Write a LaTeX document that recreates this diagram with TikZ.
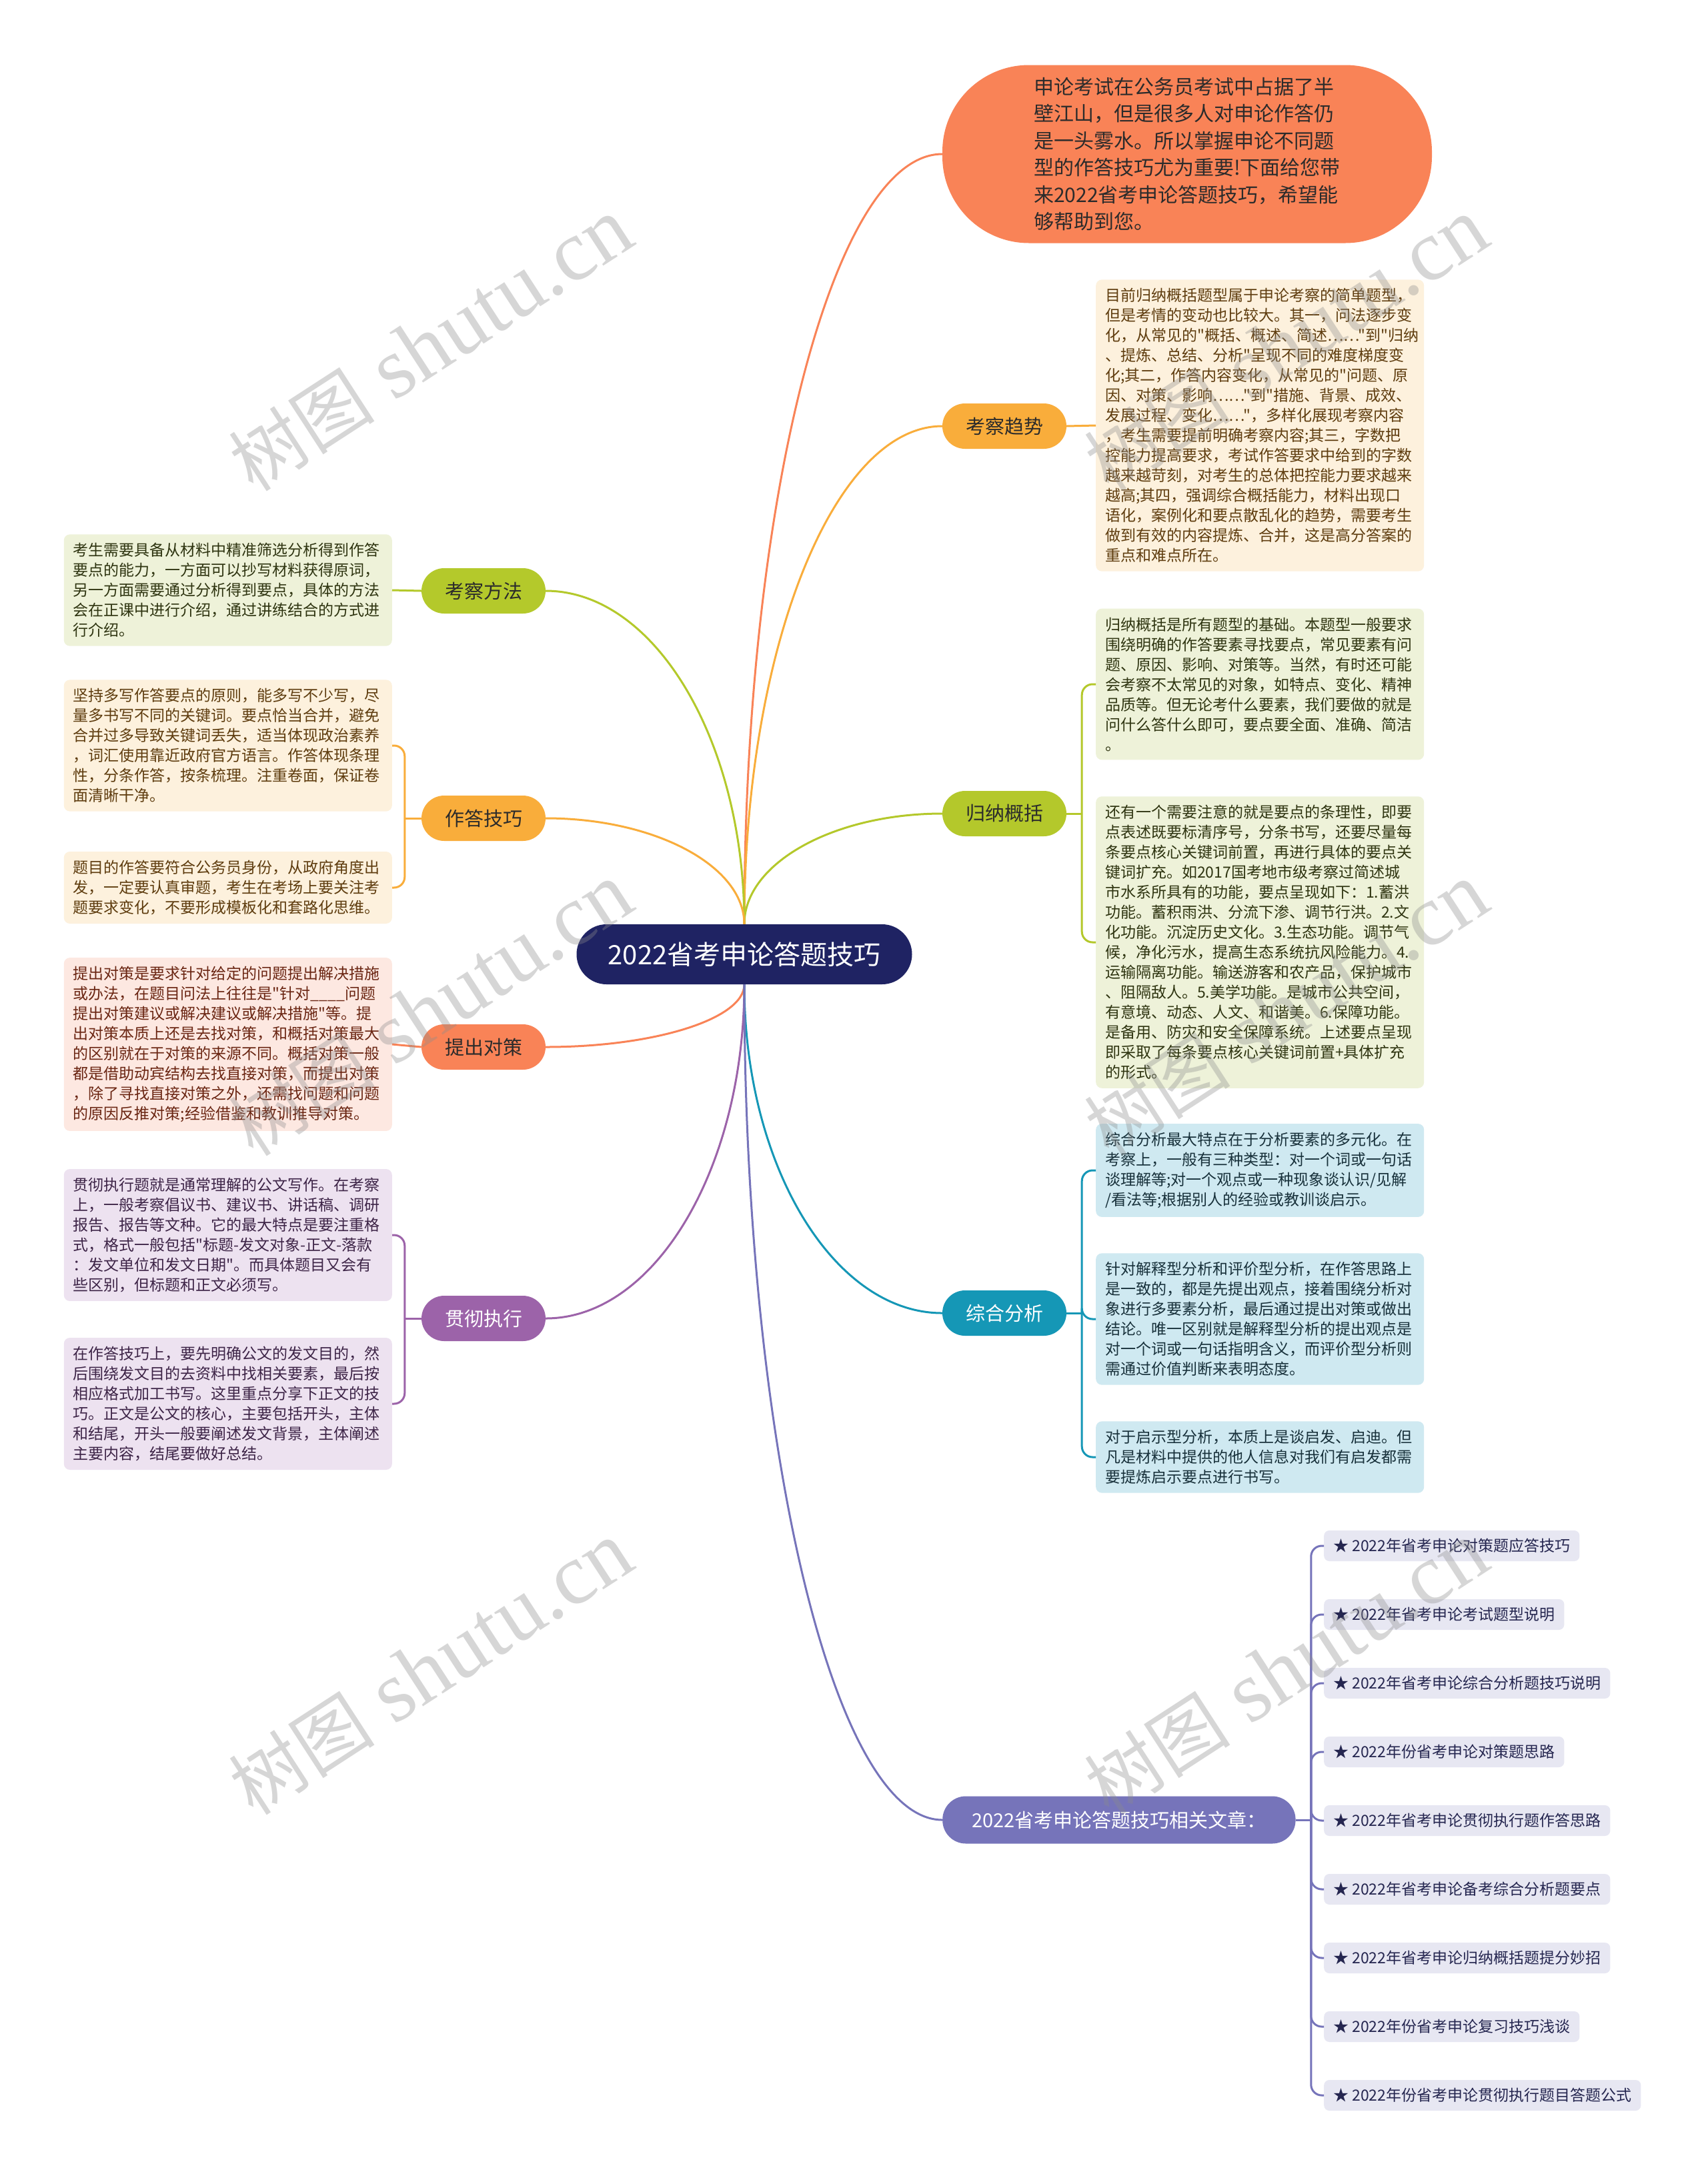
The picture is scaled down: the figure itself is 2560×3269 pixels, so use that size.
\documentclass[tikz,border=0pt]{standalone}
\usepackage{fontspec}
\setmainfont{Noto Sans CJK SC}[Ligatures=TeXOff]
\newfontfamily\wmserif{Liberation Serif}
\usetikzlibrary{calc}
\definecolor{cIntro}{HTML}{F98357}
\definecolor{cQS}{HTML}{F9AD3B}
\definecolor{cGN}{HTML}{B4C82B}
\definecolor{cZH}{HTML}{1597B6}
\definecolor{cRel}{HTML}{7674BA}
\definecolor{cFF}{HTML}{B4C92B}
\definecolor{cZD}{HTML}{F9AD3B}
\definecolor{cTC}{HTML}{F98357}
\definecolor{cGC}{HTML}{9C63A9}
\definecolor{cCenter}{HTML}{1F2363}
\definecolor{bxOr}{HTML}{FDF1DD}
\definecolor{txOr}{HTML}{5E3C0E}
\definecolor{bxGr}{HTML}{EEF2D9}
\definecolor{txGr}{HTML}{2E3410}
\definecolor{bxBl}{HTML}{CFE9F1}
\definecolor{txBl}{HTML}{17303A}
\definecolor{bxPk}{HTML}{FDE8E1}
\definecolor{txPk}{HTML}{6A2512}
\definecolor{bxPu}{HTML}{EDE2F0}
\definecolor{txPu}{HTML}{3D2447}
\definecolor{bxLi}{HTML}{E7E7F2}
\definecolor{txLi}{HTML}{252650}
\definecolor{txDark}{HTML}{2B2B2B}
\newcommand\mmlink[3]{\draw[link,#1] (#2) .. controls ($(#2)!0.55!(#2|-#3)$) and ($(#3)!0.55!(#2|-#3)$) .. (#3);}
\newcommand\mmbrack[3]{\draw[link,#1,rounded corners=16pt] (#2) |- (#3);}
\begin{document}
\begin{tikzpicture}[x=1pt,y=-1pt,
  link/.style={line width=3pt},
  centernode/.style={fill=cCenter,text=white,rounded corners=45pt,minimum width=503pt,minimum height=90pt,font=\fontsize{40}{48}\selectfont,inner sep=0pt},
  pill/.style={fill=cIntro,text=txDark,rounded corners=130pt,minimum width=734pt,minimum height=267pt,align=left,font=\fontsize{30}{40.5}\selectfont,inner sep=0pt},
  branch/.style={text=txDark,rounded corners=34pt,minimum width=186pt,minimum height=68pt,font=\fontsize{29}{34}\selectfont,inner sep=0pt},
  relnode/.style={fill=cRel,text=white,rounded corners=35pt,minimum height=71pt,inner xsep=44pt,inner ysep=0pt,font=\fontsize{29}{34}\selectfont},
  box/.style={rounded corners=9pt,align=left,text width=464pt,inner xsep=14pt,inner ysep=13pt,font=\fontsize{23}{30}\selectfont},
  rbox/.style={box,anchor=west},
  lbox/.style={box,anchor=east},
  item/.style={fill=bxLi,text=txLi,rounded corners=8pt,anchor=west,minimum height=46pt,inner xsep=14pt,inner ysep=0pt,font=\fontsize{23}{28}\selectfont},
  wm/.style={rotate=33,text=black!45,opacity=0.35,inner sep=0pt}
]
\fill[white] (0,0) rectangle (2560,3269);
\useasboundingbox (0,0) rectangle (2560,3269);

% central node
\node[centernode] (cn) at (1116,1431) {2022省考申论答题技巧};

% intro pill
\node[pill] (intro) at (1780,231) {申论考试在公务员考试中占据了半\\壁江山，但是很多人对申论作答仍\\是一头雾水。所以掌握申论不同题\\型的作答技巧尤为重要!下面给您带\\来2022省考申论答题技巧，希望能\\够帮助到您。};

% right branches
\node[branch,fill=cQS] (qs) at (1506,639) {考察趋势};
\node[branch,fill=cGN] (gn) at (1506,1220) {归纳概括};
\node[branch,fill=cZH,text=white] (zh) at (1506,1969) {综合分析};
\node[relnode,anchor=west] (rel) at (1413,2729) {2022省考申论答题技巧相关文章：};

% left branches
\node[branch,fill=cFF] (ff) at (725,886) {考察方法};
\node[branch,fill=cZD] (zd) at (725,1227) {作答技巧};
\node[branch,fill=cTC] (tc) at (725,1570) {提出对策};
\node[branch,fill=cGC,text=white] (gc) at (725,1977) {贯彻执行};

% right boxes
\node[rbox,fill=bxOr,text=txOr] (qs1) at (1643,638) {目前归纳概括题型属于申论考察的简单题型，\\但是考情的变动也比较大。其一，问法逐步变\\化，从常见的"概括、概述、简述……"到"归纳\\、提炼、总结、分析"呈现不同的难度梯度变\\化;其二，作答内容变化，从常见的"问题、原\\因、对策、影响……"到"措施、背景、成效、\\发展过程、变化……"，多样化展现考察内容\\，考生需要提前明确考察内容;其三，字数把\\控能力提高要求，考试作答要求中给到的字数\\越来越苛刻，对考生的总体把控能力要求越来\\越高;其四，强调综合概括能力，材料出现口\\语化，案例化和要点散乱化的趋势，需要考生\\做到有效的内容提炼、合并，这是高分答案的\\重点和难点所在。};

\node[rbox,fill=bxGr,text=txGr] (gn1) at (1643,1026) {归纳概括是所有题型的基础。本题型一般要求\\围绕明确的作答要素寻找要点，常见要素有问\\题、原因、影响、对策等。当然，有时还可能\\会考察不太常见的对象，如特点、变化、精神\\品质等。但无论考什么要素，我们要做的就是\\问什么答什么即可，要点要全面、准确、简洁\\。};

\node[rbox,fill=bxGr,text=txGr] (gn2) at (1643,1413) {还有一个需要注意的就是要点的条理性，即要\\点表述既要标清序号，分条书写，还要尽量每\\条要点核心关键词前置，再进行具体的要点关\\键词扩充。如2017国考地市级考察过简述城\\市水系所具有的功能，要点呈现如下：1.蓄洪\\功能。蓄积雨洪、分流下渗、调节行洪。2.文\\化功能。沉淀历史文化。3.生态功能。调节气\\候，净化污水，提高生态系统抗风险能力。4.\\运输隔离功能。输送游客和农产品，保护城市\\、阻隔敌人。5.美学功能。是城市公共空间，\\有意境、动态、人文、和谐美。6.保障功能。\\是备用、防灾和安全保障系统。上述要点呈现\\即采取了每条要点核心关键词前置+具体扩充\\的形式。};

\node[rbox,fill=bxBl,text=txBl] (zh1) at (1643,1755) {综合分析最大特点在于分析要素的多元化。在\\考察上，一般有三种类型：对一个词或一句话\\谈理解等;对一个观点或一种现象谈认识/见解\\/看法等;根据别人的经验或教训谈启示。};

\node[rbox,fill=bxBl,text=txBl] (zh2) at (1643,1978) {针对解释型分析和评价型分析，在作答思路上\\是一致的，都是先提出观点，接着围绕分析对\\象进行多要素分析，最后通过提出对策或做出\\结论。唯一区别就是解释型分析的提出观点是\\对一个词或一句话指明含义，而评价型分析则\\需通过价值判断来表明态度。};

\node[rbox,fill=bxBl,text=txBl] (zh3) at (1643,2185) {对于启示型分析，本质上是谈启发、启迪。但\\凡是材料中提供的他人信息对我们有启发都需\\要提炼启示要点进行书写。};

% left boxes
\node[lbox,fill=bxGr,text=txGr] (ff1) at (588,885) {考生需要具备从材料中精准筛选分析得到作答\\要点的能力，一方面可以抄写材料获得原词，\\另一方面需要通过分析得到要点，具体的方法\\会在正课中进行介绍，通过讲练结合的方式进\\行介绍。};

\node[lbox,fill=bxOr,text=txOr] (zd1) at (588,1118) {坚持多写作答要点的原则，能多写不少写，尽\\量多书写不同的关键词。要点恰当合并，避免\\合并过多导致关键词丢失，适当体现政治素养\\，词汇使用靠近政府官方语言。作答体现条理\\性，分条作答，按条梳理。注重卷面，保证卷\\面清晰干净。};

\node[lbox,fill=bxOr,text=txOr] (zd2) at (588,1331) {题目的作答要符合公务员身份，从政府角度出\\发，一定要认真审题，考生在考场上要关注考\\题要求变化，不要形成模板化和套路化思维。};

\node[lbox,fill=bxPk,text=txPk] (tc1) at (588,1566) {提出对策是要求针对给定的问题提出解决措施\\或办法，在题目问法上往往是"针对\_\_\_\_问题\\提出对策建议或解决建议或解决措施"等。提\\出对策本质上还是去找对策，和概括对策最大\\的区别就在于对策的来源不同。概括对策一般\\都是借助动宾结构去找直接对策，而提出对策\\，除了寻找直接对策之外，还需找问题和问题\\的原因反推对策;经验借鉴和教训推导对策。};

\node[lbox,fill=bxPu,text=txPu] (gc1) at (588,1852) {贯彻执行题就是通常理解的公文写作。在考察\\上，一般考察倡议书、建议书、讲话稿、调研\\报告、报告等文种。它的最大特点是要注重格\\式，格式一般包括"标题-发文对象-正文-落款\\：发文单位和发文日期"。而具体题目又会有\\些区别，但标题和正文必须写。};

\node[lbox,fill=bxPu,text=txPu] (gc2) at (588,2105) {在作答技巧上，要先明确公文的发文目的，然\\后围绕发文目的去资料中找相关要素，最后按\\相应格式加工书写。这里重点分享下正文的技\\巧。正文是公文的核心，主要包括开头，主体\\和结尾，开头一般要阐述发文背景，主体阐述\\主要内容，结尾要做好总结。};

% related articles
\node[item] (r1) at (1985,2318) {★ 2022年省考申论对策题应答技巧};
\node[item] (r2) at (1985,2421) {★ 2022年省考申论考试题型说明};
\node[item] (r3) at (1985,2524) {★ 2022年省考申论综合分析题技巧说明};
\node[item] (r4) at (1985,2627) {★ 2022年份省考申论对策题思路};
\node[item] (r5) at (1985,2730) {★ 2022年省考申论贯彻执行题作答思路};
\node[item] (r6) at (1985,2833) {★ 2022年省考申论备考综合分析题要点};
\node[item] (r7) at (1985,2936) {★ 2022年省考申论归纳概括题提分妙招};
\node[item] (r8) at (1985,3039) {★ 2022年份省考申论复习技巧浅谈};
\node[item] (r9) at (1985,3142) {★ 2022年份省考申论贯彻执行题目答题公式};

% main connectors
\mmlink{cIntro}{cn.north}{intro.west}
\mmlink{cQS}{cn.north}{qs.west}
\mmlink{cGN}{cn.north}{gn.west}
\mmlink{cFF}{cn.north}{ff.east}
\mmlink{cZD}{cn.north}{zd.east}
\mmlink{cTC}{cn.south}{tc.east}
\mmlink{cGC}{cn.south}{gc.east}
\mmlink{cZH}{cn.south}{zh.west}
\mmlink{cRel}{cn.south}{rel.west}

% branch to boxes
\draw[link,cQS] (qs.east) -- (qs1.west);
\draw[link,cFF] (ff.west) -- (ff1.east);
\draw[link,cTC] (tc.west) -- (tc1.east);

\coordinate (gnJ) at ($(gn.east)+(23,0)$);
\draw[link,cGN] (gn.east) -- (gnJ);
\mmbrack{cGN}{gnJ}{gn1.west}
\mmbrack{cGN}{gnJ}{gn2.west}

\coordinate (zhJ) at ($(zh.east)+(23,0)$);
\draw[link,cZH] (zh.east) -- (zhJ);
\mmbrack{cZH}{zhJ}{zh1.west}
\mmbrack{cZH}{zhJ}{zh2.west}
\mmbrack{cZH}{zhJ}{zh3.west}

\coordinate (zdJ) at ($(zd.west)+(-25,0)$);
\draw[link,cZD] (zd.west) -- (zdJ);
\mmbrack{cZD}{zdJ}{zd1.east}
\mmbrack{cZD}{zdJ}{zd2.east}

\coordinate (gcJ) at ($(gc.west)+(-25,0)$);
\draw[link,cGC] (gc.west) -- (gcJ);
\mmbrack{cGC}{gcJ}{gc1.east}
\mmbrack{cGC}{gcJ}{gc2.east}

\coordinate (relJ) at ($(rel.east)+(23,0)$);
\draw[link,cRel] (rel.east) -- (relJ);
\foreach \i in {1,...,9}{\mmbrack{cRel}{relJ}{r\i.west}}

% watermarks
\foreach \wx/\wy [count=\k] in {646/517,1929/517,646/1514,1929/1514,646/2502,1929/2502}
  \node[wm] (wm\k) at (\wx,\wy) {\fontsize{110}{120}\selectfont 树图\hspace{30pt}{\wmserif\fontsize{130}{140}\selectfont shutu.cn}};
\end{tikzpicture}
\end{document}
